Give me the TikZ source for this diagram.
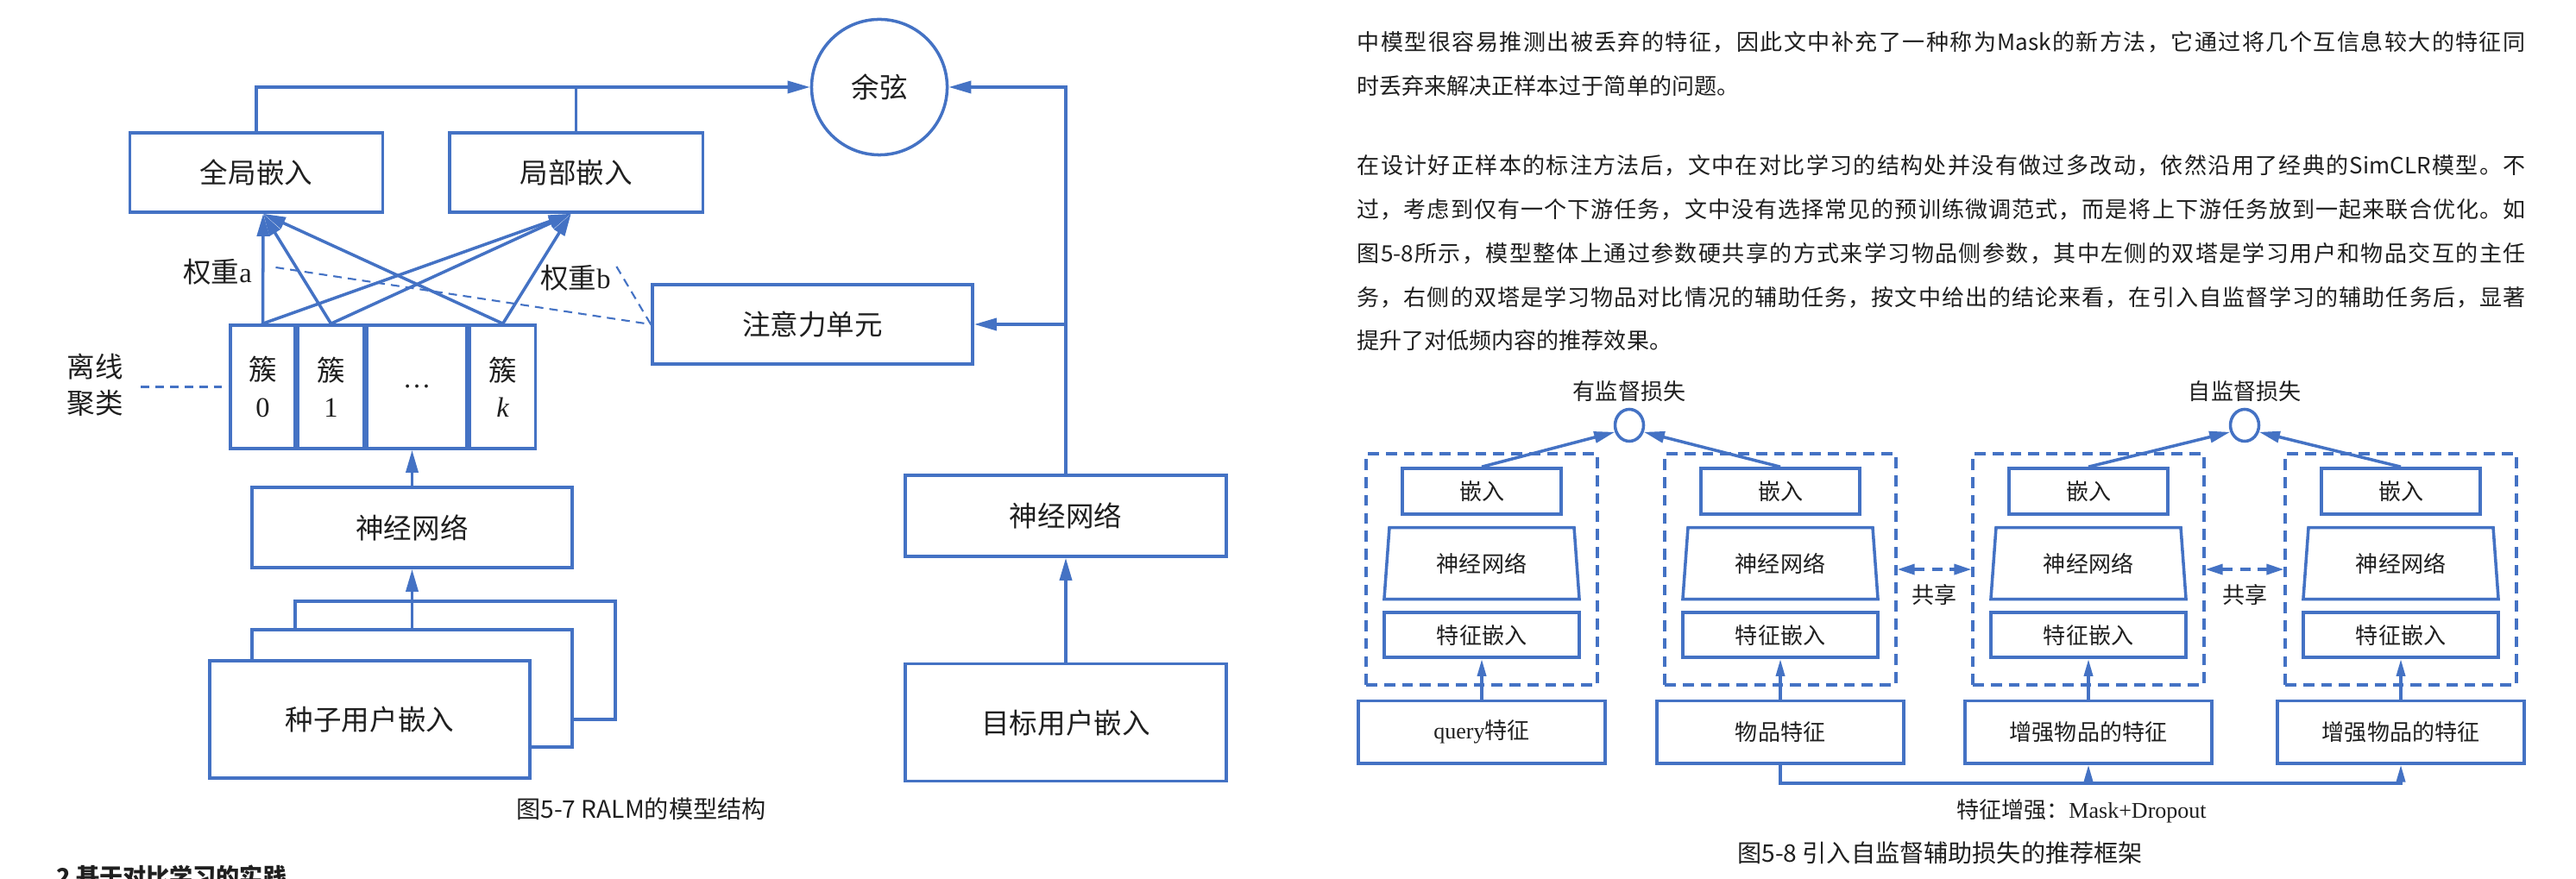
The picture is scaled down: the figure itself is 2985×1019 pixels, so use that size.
\documentclass[tikz,border=0pt]{standalone}
\usepackage{fontspec}
\setmainfont{Liberation Serif}
\newfontfamily\zh{Noto Sans CJK SC}
\usetikzlibrary{arrows.meta,positioning,fit,shapes.geometric}
\definecolor{LineBlue}{HTML}{4472C4}
\definecolor{TextDark}{HTML}{1F1F1F}
\ExplSyntaxOn
\NewDocumentCommand\spreadline{m}{\hbox~to~13.53cm{\tl_map_inline:nn {#1} {##1\hfil}\unskip}}
\ExplSyntaxOff

\begin{document}
\begin{tikzpicture}[
  x=0.01cm,y=-0.01cm,
  node distance=0.12cm,
  box/.style={draw=LineBlue,line width=1pt,fill=white,minimum width=3.71cm,minimum height=0.92cm,inner sep=0pt,text=TextDark,font=\zh\fontsize{9.25}{12}\selectfont},
  cell/.style={draw=LineBlue,line width=1pt,minimum height=1.43cm,align=center,inner sep=0pt,text=TextDark,font=\fontsize{9.25}{12}\selectfont},
  tag/.style={inner sep=0pt,text=TextDark,font=\zh\fontsize{9.25}{12}\selectfont},
  arrow/.style={-{Triangle[length=0.26cm,width=0.14cm]},draw=LineBlue,line width=1pt},
  wire/.style={draw=LineBlue,line width=1pt},
  weight/.style={draw=LineBlue,line width=0.6pt,dash pattern=on 2.8pt off 2pt},
  tbox/.style={draw=LineBlue,line width=1pt,minimum height=0.53cm,inner sep=0pt,text=TextDark,font=\zh\fontsize{7.4}{9}\selectfont},
  trap/.style={draw=LineBlue,line width=1pt,trapezium,trapezium left angle=76,trapezium right angle=76,trapezium stretches body,minimum width=2.26cm,minimum height=0.83cm,inner sep=0pt,text=TextDark,font=\zh\fontsize{7.4}{9}\selectfont},
  tower/.style={draw=LineBlue,line width=1pt,dash pattern=on 3.6pt off 2.3pt,inner xsep=0.19cm,inner ysep=0.15cm},
  loss/.style={draw=LineBlue,line width=1pt,ellipse,minimum width=0.33cm,minimum height=0.37cm,inner sep=0pt},
  small/.style={inner sep=0pt,text=TextDark,font=\zh\fontsize{7.4}{9}\selectfont},
  uparrow/.style={-{Triangle[length=0.2cm,width=0.1cm]},draw=LineBlue,line width=1pt},
  lossarrow/.style={-{Triangle[length=0.24cm,width=0.13cm]},draw=LineBlue,line width=1pt},
  share/.style={{Triangle[length=0.2cm,width=0.12cm]}-{Triangle[length=0.2cm,width=0.12cm]},draw=LineBlue,line width=1pt,dash pattern=on 3.6pt off 2.3pt},
  paraline/.style={anchor=west,inner sep=0pt,text=TextDark,font=\zh\fontsize{7.4}{9}\selectfont},
  caption/.style={inner sep=0pt,text=TextDark,font=\zh\fontsize{8}{10}\selectfont}
]
\fill[white] (0,0) rectangle (2985,1019);
\useasboundingbox (0,0) rectangle (2985,1019);

\node[box,minimum width=2.93cm] (globalemb) at (297,200) {全局嵌入};
\node[box,minimum width=2.93cm,right=0.74cm of globalemb] (localemb) {局部嵌入};
\node[box,circle,minimum size=1.57cm] (cosine) at (1019,101) {余弦};
\node[box] (attn) at (941.5,376) {注意力单元};
\node[cell,minimum width=0.75cm] (clu0) at (304.5,448.5) {{\zh 簇}\\0};
\node[cell,minimum width=0.76cm,right=0cm of clu0] (clu1) {{\zh 簇}\\1};
\node[cell,minimum width=1.16cm,right=0cm of clu1] (cludots) {\dots};
\node[cell,minimum width=0.76cm,right=0cm of cludots] (cluk) {{\zh 簇}\\\textit{k}};
\node[tag,align=center] (offline) at (110,446) {离线\\聚类};
\node[tag] (wa) at (252,315) {权重{\rmfamily a}};
\node[tag] (wb) at (667,322) {权重{\rmfamily b}};
\node[box,minimum height=0.93cm] (nnleft) at (477.5,611.5) {神经网络};
\node[box,minimum height=1.37cm] (seedback) at (527.5,765.5) {};
\node[box,minimum height=1.36cm] (seedmid) at (477.5,798) {};
\node[box,minimum height=1.36cm] (seed) at (428.5,834) {种子用户嵌入};
\node[box,minimum width=3.72cm,minimum height=0.94cm] (nnright) at (1235,598) {神经网络};
\node[box,minimum width=3.72cm,minimum height=1.36cm,below=1.21cm of nnright] (target) {目标用户嵌入};
\node[caption] (cap1) at (743,938) {图5-7 RALM的模型结构};
\node[anchor=west,inner sep=0pt,text=TextDark,font=\zh\bfseries\fontsize{7.7}{9}\selectfont] (section) at (65,1016) {2 基于对比学习的实践};

\coordinate (gin) at ([xshift=0.08cm]globalemb.south);
\coordinate (lin) at ([xshift=-0.06cm]localemb.south);
\draw[arrow] (globalemb.north) |- (cosine.west);
\draw[wire] (localemb.north) -- (localemb.north |- cosine.west);
\draw[arrow] (nnright.north) |- (cosine.east);
\draw[arrow] (nnright.north |- attn.east) -- (attn.east);
\draw[arrow] (clu0.north) -- (gin);
\draw[arrow] (clu1.north) -- (gin);
\draw[arrow] (cluk.north) -- (gin);
\draw[arrow] (clu0.north) -- (lin);
\draw[arrow] (clu1.north) -- (lin);
\draw[arrow] (cluk.north) -- (lin);
\draw[weight] ([xshift=0.27cm,yshift=0.05cm]wa.east) -- (attn.west);
\draw[weight] ([xshift=0.06cm,yshift=0.13cm]wb.east) -- (attn.west);
\draw[weight] ([xshift=0.2cm]offline.east |- clu0.west) -- (clu0.west);
\draw[arrow] (nnleft.north) -- (nnleft.north |- cludots.south);
\draw[arrow] (seedmid.north) -- (nnleft.south);
\draw[arrow] (target.north) -- (nnright.south);

\node[paraline] (par1) at (1572,49) {\spreadline{中模型很容易推测出被丢弃的特征，因此文中补充了一种称为{Mask}的新方法，它通过将几个互信息较大的特征同}};
\node[paraline] (par2) at (1572,100) {时丢弃来解决正样本过于简单的问题。};
\node[paraline] (par3) at (1572,192) {\spreadline{在设计好正样本的标注方法后，文中在对比学习的结构处并没有做过多改动，依然沿用了经典的{SimCLR}模型。不}};
\node[paraline] (par4) at (1572,243) {\spreadline{过，考虑到仅有一个下游任务，文中没有选择常见的预训练微调范式，而是将上下游任务放到一起来联合优化。如}};
\node[paraline] (par5) at (1572,294) {\spreadline{图{5-8}所示，模型整体上通过参数硬共享的方式来学习物品侧参数，其中左侧的双塔是学习用户和物品交互的主任}};
\node[paraline] (par6) at (1572,345) {\spreadline{务，右侧的双塔是学习物品对比情况的辅助任务，按文中给出的结论来看，在引入自监督学习的辅助任务后，显著}};
\node[paraline] (par7) at (1572,395) {提升了对低频内容的推荐效果。};

\node[tbox,minimum width=1.84cm] (emb1) at (1717,569.5) {嵌入};
\node[trap,below=of emb1] (nn1) {神经网络};
\node[tbox,minimum width=2.26cm,minimum height=0.52cm,below=of nn1] (feat1) {特征嵌入};
\node[tbox,minimum width=2.86cm,minimum height=0.72cm,below=0.47cm of feat1] (in1) {{\rmfamily query}特征};
\node[tower,fit={(emb1)(feat1)([yshift=-0.15cm]feat1.south)}] (tower1) {};
\node[tbox,minimum width=1.84cm] (emb2) at (2063,569.5) {嵌入};
\node[trap,below=of emb2] (nn2) {神经网络};
\node[tbox,minimum width=2.26cm,minimum height=0.52cm,below=of nn2] (feat2) {特征嵌入};
\node[tbox,minimum width=2.86cm,minimum height=0.72cm,below=0.47cm of feat2] (in2) {物品特征};
\node[tower,fit={(emb2)(feat2)([yshift=-0.15cm]feat2.south)}] (tower2) {};
\node[tbox,minimum width=1.84cm] (emb3) at (2420,569.5) {嵌入};
\node[trap,below=of emb3] (nn3) {神经网络};
\node[tbox,minimum width=2.26cm,minimum height=0.52cm,below=of nn3] (feat3) {特征嵌入};
\node[tbox,minimum width=2.86cm,minimum height=0.72cm,below=0.47cm of feat3] (in3) {增强物品的特征};
\node[tower,fit={(emb3)(feat3)([yshift=-0.15cm]feat3.south)}] (tower3) {};
\node[tbox,minimum width=1.84cm] (emb4) at (2782,569.5) {嵌入};
\node[trap,below=of emb4] (nn4) {神经网络};
\node[tbox,minimum width=2.26cm,minimum height=0.52cm,below=of nn4] (feat4) {特征嵌入};
\node[tbox,minimum width=2.86cm,minimum height=0.72cm,below=0.47cm of feat4] (in4) {增强物品的特征};
\node[tower,fit={(emb4)(feat4)([yshift=-0.15cm]feat4.south)}] (tower4) {};
\node[loss] (sup) at (1888,493) {};
\node[small,above=0.06cm of sup] (suplabel) {有监督损失};
\node[loss] (self) at (2601,493) {};
\node[small,above=0.06cm of self] (selflabel) {自监督损失};
\node[small] (aug) at (2412,940) {特征增强：{\rmfamily Mask+Dropout}};
\node[caption] (cap2) at (2248,989) {图5-8 引入自监督辅助损失的推荐框架};

\draw[lossarrow] (emb1.north) -- (sup.205);
\draw[lossarrow] (emb2.north) -- (sup.335);
\draw[lossarrow] (emb3.north) -- (self.205);
\draw[lossarrow] (emb4.north) -- (self.335);
\draw[uparrow] (in1.north) -- (feat1.south);
\draw[uparrow] (in2.north) -- (feat2.south);
\draw[uparrow] (in3.north) -- (feat3.south);
\draw[uparrow] (in4.north) -- (feat4.south);
\draw[share] (tower2.east) -- node[small,below=0.16cm] (share1) {共享} (tower3.west);
\draw[share] (tower3.east) -- node[small,below=0.16cm] (share2) {共享} (tower4.west);
\coordinate (bus) at (0,908);
\draw[uparrow] (in2.south) |- (bus -| in4.south) -- (in4.south);
\draw[uparrow] (bus -| in3.south) -- (in3.south);
\end{tikzpicture}
\end{document}
